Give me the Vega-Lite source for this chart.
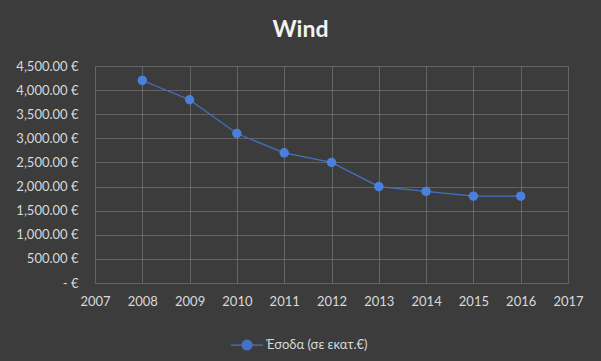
{
  "$schema": "https://vega.github.io/schema/vega-lite/v6.json",
  "width": 473,
  "height": 217,
  "autosize": "none",
  "padding": {"left": 95, "top": 66, "right": 33, "bottom": 78},
  "background": "#3c3c3c",
  "title": {
    "text": "Wind",
    "font": "Lato",
    "fontSize": 23,
    "fontWeight": "bold",
    "letterSpacing": 2,
    "color": "#f2f2f2",
    "anchor": "middle",
    "dx": -31,
    "offset": 18
  },
  "config": {
    "view": {"stroke": null},
    "axis": {
      "labelFont": "Lato",
      "labelFontSize": 13,
      "labelColor": "#d9d9d9",
      "domain": false,
      "ticks": false,
      "gridColor": "#8c8c8c",
      "gridOpacity": 0.5,
      "gridWidth": 1,
      "title": null,
      "labelFlush": false
    }
  },
  "data": {
    "values": [
      {"year": 2008, "value": 4200, "series": "Έσοδα (σε εκατ.€)"},
      {"year": 2009, "value": 3800, "series": "Έσοδα (σε εκατ.€)"},
      {"year": 2010, "value": 3100, "series": "Έσοδα (σε εκατ.€)"},
      {"year": 2011, "value": 2700, "series": "Έσοδα (σε εκατ.€)"},
      {"year": 2012, "value": 2500, "series": "Έσοδα (σε εκατ.€)"},
      {"year": 2013, "value": 2000, "series": "Έσοδα (σε εκατ.€)"},
      {"year": 2014, "value": 1900, "series": "Έσοδα (σε εκατ.€)"},
      {"year": 2015, "value": 1800, "series": "Έσοδα (σε εκατ.€)"},
      {"year": 2016, "value": 1800, "series": "Έσοδα (σε εκατ.€)"}
    ]
  },
  "mark": {
    "type": "line",
    "strokeWidth": 1.25,
    "point": {"filled": true, "size": 90, "fill": "#4a7fdc", "opacity": 1}
  },
  "encoding": {
    "x": {
      "field": "year",
      "type": "quantitative",
      "scale": {"domain": [2007, 2017], "nice": false, "zero": false},
      "axis": {
        "values": [2007, 2008, 2009, 2010, 2011, 2012, 2013, 2014, 2015, 2016, 2017],
        "format": "d",
        "labelPadding": 12
      }
    },
    "y": {
      "field": "value",
      "type": "quantitative",
      "scale": {"domain": [0, 4500], "nice": false},
      "axis": {
        "values": [0, 500, 1000, 1500, 2000, 2500, 3000, 3500, 4000, 4500],
        "labelExpr": "datum.value == 0 ? '-    €' : format(datum.value, ',.2f') + ' €'",
        "labelPadding": 17
      }
    },
    "color": {
      "field": "series",
      "type": "nominal",
      "scale": {"range": ["#4472c4"]},
      "legend": {
        "orient": "none",
        "legendX": 135,
        "legendY": 262,
        "title": null,
        "symbolType": "M-1,0L1,0M-0.31,0A0.31,0.31,0,1,1,0.31,0A0.31,0.31,0,1,1,-0.31,0Z",
        "symbolSize": 1024,
        "symbolFillColor": "#4a7fdc",
        "symbolStrokeColor": "#4472c4",
        "symbolStrokeWidth": 1.25,
        "labelFont": "Lato",
        "labelFontSize": 13,
        "labelColor": "#d9d9d9",
        "labelOffset": 2
      }
    }
  }
}
